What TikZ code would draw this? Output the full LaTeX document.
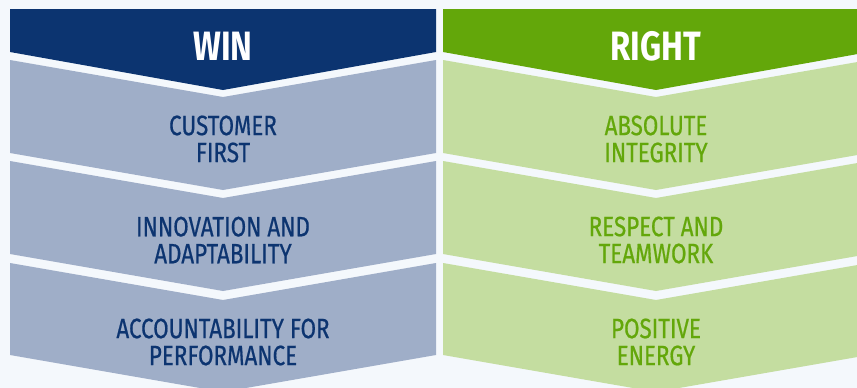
\documentclass[tikz,border=0pt]{standalone}
\usepackage{fontspec}
\setmainfont{Fira Sans}[FakeStretch=0.8]
\newfontfamily\valuefont{Fira Sans}[FakeStretch=0.8, FakeBold=0.6]

\definecolor{pagebg}{HTML}{F4F8FC}
\definecolor{winnavy}{HTML}{0C3470}
\definecolor{winslate}{HTML}{9FAEC8}
\definecolor{rightgreen}{HTML}{63A70A}
\definecolor{rightpale}{HTML}{C4DDA0}

\tikzset{
  headtext/.style={text=white, font=\fontsize{41}{41}\selectfont\bfseries, inner sep=0pt},
  itemtext/.style={align=center, font=\valuefont\fontsize{28}{27}\selectfont, inner sep=0pt},
}

\begin{document}
\begin{tikzpicture}[x=1pt,y=-1pt]

  % Page and background
  \useasboundingbox (0,0) rectangle (857,388);
  \clip (0,0) rectangle (857,388);
  \fill[pagebg] (0,0) rectangle (857,388);

  % Header chevrons
  \fill[winnavy] (10,9) -- (436,9) -- (436,52) -- (223,90) -- (10,52) -- cycle;
  \fill[rightgreen] (443,9) -- (869,9) -- (869,52) -- (656,90) -- (443,52) -- cycle;
  \node[headtext] (win) at (223,46) {WIN};
  \node[headtext] (right) at (656,46) {RIGHT};

  % Value chevrons, one row at a time
  \foreach \yt/\yb/\n/\wintxt/\righttxt in {
      60/153/1/{CUSTOMER\\FIRST}/{ABSOLUTE\\INTEGRITY},
      161/254/2/{INNOVATION AND\\ADAPTABILITY}/{RESPECT AND\\TEAMWORK},
      263/355/3/{ACCOUNTABILITY FOR\\PERFORMANCE}/{POSITIVE\\ENERGY}} {
    \fill[winslate] (10,\yt) -- (223,\yt+37) -- (436,\yt) -- (436,\yb) -- (223,\yb+37) -- (10,\yb) -- cycle;
    \fill[rightpale] (443,\yt) -- (656,\yt+37) -- (869,\yt) -- (869,\yb) -- (656,\yb+37) -- (443,\yb) -- cycle;
    \node[itemtext, text=winnavy] (win-\n) at (223,\yt+79) {\wintxt};
    \node[itemtext, text=rightgreen] (right-\n) at (656,\yt+79) {\righttxt};
  }

\end{tikzpicture}
\end{document}
